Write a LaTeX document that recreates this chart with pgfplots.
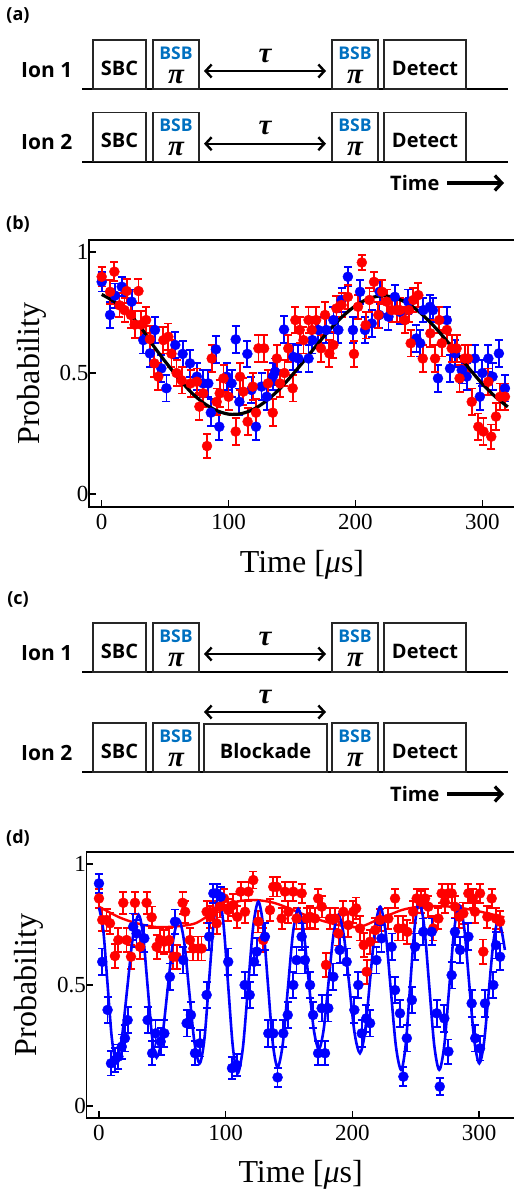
\documentclass[border=0pt]{standalone}
\usepackage{fontspec}
\setmainfont{Liberation Serif}
\newfontfamily\osans{Open Sans}
\usepackage{pgfplots}
\pgfplotsset{compat=1.18}
\usepackage{pgfplotstable}
\usetikzlibrary{arrows.meta}
\definecolor{bsb}{RGB}{0,112,192}

% ---- panel (b) data ----
\pgfplotstableread{
t p e
0 .898 .04
6.6 .836 .05
10 .919 .04
14 .78 .05
18 .76 .05
19.7 .839 .05
23 .74 .055
26 .70 .055
29 .839 .05
31 .70 .055
35 .719 .055
38 .64 .055
41.5 .54 .055
44.6 .485 .055
48.6 .636 .055
52.5 .650 .055
55 .58 .055
59 .50 .055
63 .47 .055
70 .457 .055
75 .464 .055
77 .361 .055
80 .416 .055
83 .198 .05
86.7 .56 .055
90.6 .381 .055
93 .416 .055
96 .478 .055
100 .402 .055
105.6 .258 .055
109 .485 .055
111.6 .423 .055
115 .299 .055
119 .444 .055
121.6 .336 .055
123.5 .602 .055
128 .602 .055
131 .457 .055
134.8 .336 .055
138 .56 .055
140.5 .457 .055
144 .50 .055
147 .602 .055
150.5 .437 .055
152.6 .719 .055
156 .678 .055
159 .636 .055
163 .719 .055
165.5 .678 .055
169 .719 .055
172.8 .602 .055
176 .74 .055
179.4 .581 .055
182.6 .616 .055
185 .767 .05
189 .781 .05
194 .815 .05
198.8 .579 .055
202 .774 .05
205 .957 .03
208 .698 .055
211 .802 .05
214.6 .877 .04
218 .74 .055
221 .836 .05
224.6 .795 .05
228.5 .76 .05
232.5 .76 .05
235 .76 .05
239 .719 .055
242 .76 .05
243.5 .623 .055
245.6 .802 .05
249.5 .822 .05
253 .56 .055
259 .664 .055
262.7 .56 .055
266 .719 .055
268 .623 .055
272 .678 .055
275.8 .602 .055
279.7 .602 .055
282 .478 .055
286 .56 .055
288.6 .56 .055
291.6 .381 .055
296.8 .278 .055
300.8 .258 .055
304.7 .464 .055
307 .237 .05
310.7 .320 .055
314 .402 .055
317.8 .402 .055
}\redb

\pgfplotstableread{
t p e
0 .877 .04
6.6 .74 .055
10.5 .82 .05
15.8 .857 .04
23.6 .795 .05
32.8 .636 .055
38 .581 .055
42 .678 .055
47 .519 .055
51 .437 .055
58 .616 .055
63.8 .579 .055
69.6 .54 .055
75 .485 .055
80 .457 .055
84 .457 .055
86 .336 .055
90 .598 .055
92.7 .278 .055
98.5 .485 .055
102.4 .457 .055
105.6 .639 .055
108.5 .381 .055
114.8 .579 .055
118 .43 .055
121.6 .278 .055
126 .444 .055
130 .402 .055
134.8 .485 .055
136.6 .505 .055
143.7 .68 .055
151 .567 .055
155 .56 .055
163 .56 .055
166 .636 .055
170.7 .678 .055
177 .678 .055
182.6 .719 .055
186.5 .678 .055
189 .802 .05
194 .898 .04
198 .678 .055
203.6 .836 .05
207.5 .678 .055
212.8 .705 .055
218.8 .74 .055
219 .836 .05
226 .733 .055
231 .815 .05
235 .753 .05
241.6 .795 .05
248 .643 .055
251 .623 .055
253.5 .76 .05
258.7 .774 .05
261 .76 .05
265 .478 .055
272 .719 .055
274.5 .519 .055
278.4 .581 .055
283.7 .512 .055
287.6 .485 .055
294 .56 .055
298 .402 .055
300 .5 .055
304.7 .56 .055
308 .485 .055
313 .581 .055
317.8 .437 .055
}\blueb

% ---- panel (d) data ----
\pgfplotstableread{
t p e
0 .858 .04
2.6 .769 .045
6 .769 .045
8.7 .755 .045
12.6 .62 .05
15.3 .686 .05
19.2 .84 .045
21.8 .686 .05
25.3 .617 .05
28.4 .84 .045
32.4 .658 .05
37.6 .84 .045
41.6 .78 .045
45.5 .658 .05
48.2 .686 .05
51.6 .679 .05
55.3 .686 .05
58.7 .617 .05
61.3 .617 .05
66 .84 .045
68 .803 .045
71.8 .686 .05
74.5 .651 .05
78.4 .651 .05
81 .651 .05
85 .803 .045
87.6 .782 .045
90.3 .803 .045
92.9 .755 .045
95.5 .824 .045
98.7 .858 .04
102 .81 .045
106 .831 .045
109.2 .782 .045
111.8 .886 .04
115.3 .803 .045
118 .886 .04
121.8 .934 .035
125.8 .762 .045
129.7 .686 .05
135 .81 .045
137.6 .906 .04
140.3 .906 .04
144.2 .775 .045
146.8 .886 .04
149.5 .803 .045
153.4 .886 .04
156 .775 .045
160 .879 .04
164 .775 .045
166.6 .782 .045
170.5 .775 .045
173 .858 .04
175.8 .824 .045
179.2 .583 .05
182.4 .775 .045
186.3 .775 .045
189 .713 .05
192.9 .803 .045
196.8 .748 .05
200.8 .803 .045
203 .817 .045
206 .734 .05
209 .665 .05
211.3 .555 .05
214 .679 .05
218 .727 .05
221.8 .769 .045
228.4 .775 .045
233.7 .858 .04
236.3 .734 .05
240.3 .734 .05
243.4 .72 .05
248 .803 .045
250.8 .858 .04
254 .844 .045
257.4 .858 .04
260 .824 .045
263.9 .734 .05
267.9 .775 .045
270.5 .879 .04
273 .844 .045
275.8 .879 .04
278.4 .879 .04
281 .824 .045
284.5 .782 .045
287.6 .796 .045
291.6 .879 .04
295 .858 .04
296.8 .803 .045
300.8 .879 .04
303.4 .638 .05
306.6 .782 .045
310 .858 .04
313.4 .775 .045
316.6 .762 .045
}\redd

\pgfplotstableread{
t p e
0 .92 .04
2.6 .596 .055
6.8 .397 .055
9.5 .176 .05
12.6 .19 .05
15.3 .204 .05
18 .245 .05
20.5 .28 .055
22.6 .355 .055
27 .741 .055
29.7 .713 .055
35.8 .693 .055
38.4 .355 .055
42 .218 .05
44.7 .30 .055
48.7 .266 .055
51.6 .30 .055
56 .534 .055
60 .762 .05
66.6 .603 .055
69.2 .342 .055
72.6 .376 .055
75.8 .218 .05
79.7 .259 .055
85 .459 .055
87 .70 .055
90.3 .879 .04
92.9 .879 .04
96 .865 .04
102 .596 .055
105 .156 .045
108.7 .169 .045
115 .50 .055
119 .459 .055
122.4 .596 .055
124.5 .638 .055
131 .70 .055
133.7 .30 .055
137.6 .30 .055
141 .118 .04
145.5 .30 .055
149 .376 .055
153.4 .50 .055
156 .603 .055
160 .70 .055
162.6 .603 .055
166.6 .50 .055
169 .376 .055
173 .218 .05
175.8 .404 .055
178.4 .218 .05
181 .404 .055
185 .534 .055
190 .645 .055
195.5 .596 .055
201.6 .397 .055
204.7 .50 .055
207.4 .30 .055
211 .362 .055
214 .342 .055
219 .603 .055
223 .693 .055
231 .658 .055
233.7 .479 .055
237.6 .383 .055
240.3 .121 .04
243 .28 .055
247 .438 .055
249.5 .658 .055
256 .72 .055
262.6 .72 .055
266.6 .383 .055
269 .08 .035
272.6 .362 .055
275.8 .225 .05
278.4 .541 .055
281 .72 .055
285 .645 .055
291.6 .70 .055
294.2 .424 .055
297 .28 .055
300.8 .238 .05
304.7 .424 .055
311.3 .50 .055
313.4 .665 .055
316.6 .617 .055
}\blued

\pgfplotsset{
  panel/.style={anchor=south west, scale only axis,
    xtick={0,100,200,300}, ytick={0,0.5,1},
    tick align=inside, xtick pos=left, ytick pos=left,
    major tick length=7pt, tick style={line width=1.3pt,black},
    axis line style={line width=1.3pt},
    /pgf/number format/assume math mode=true,
    ticklabel style={font=\fontsize{23}{23}\selectfont},
    label style={font=\fontsize{32}{32}\selectfont},
    xlabel={Time [\textit{μ}s]}, ylabel={Probability},
    xticklabel style={yshift=-4pt}, yticklabel style={xshift=3pt}},
  dat/.style={only marks, mark=*, mark size=5pt,
    error bars/.cd, y dir=both, y explicit,
    error bar style={line width=1.8pt},
    error mark options={rotate=90, mark size=4pt, line width=1.8pt}}
}

\tikzset{
  bx/.style={line width=1.1pt, black!85},
  txt/.style={font=\osans\bfseries\fontsize{20}{20}\selectfont, inner sep=0},
  bsbt/.style={font=\osans\bfseries\fontsize{17.5}{17.5}\selectfont, inner sep=0, text=bsb},
  pit/.style={font=\bfseries\itshape\fontsize{29}{29}\selectfont, inner sep=0},
  lab/.style={font=\osans\bfseries\fontsize{18}{18}\selectfont, inner sep=0},
  dbl/.style={line width=2.4pt, {Straight Barb[length=6pt,width=13pt]}-{Straight Barb[length=6pt,width=13pt]}},
  tarr/.style={line width=3.2pt, -{Straight Barb[length=7pt,width=15pt]}}
}

% one row of the pulse sequence: #1 baseline, #2 ion name
\newcommand{\seqbase}[2]{%
  \draw[line width=2pt] (82,#1) -- (508,#1);
  \draw[bx] (93,#1-49) rectangle (146,#1);
  \draw[bx] (153,#1-49) rectangle (199,#1);
  \draw[bx] (332,#1-49) rectangle (378,#1);
  \draw[bx] (384,#1-49) rectangle (466,#1);
  \node[anchor=base west, inner sep=0, font=\osans\bfseries\fontsize{21}{21}\selectfont] at (21,#1-12) {#2};
  \node[anchor=base, txt] at (119.5,#1-14) {SBC};
  \node[anchor=base, txt] at (425,#1-14) {Detect};
  \node[anchor=base, bsbt] at (176,#1-30) {BSB};
  \node[anchor=base, pit] at (176,#1-6) {π};
  \node[anchor=base, bsbt] at (355,#1-30) {BSB};
  \node[anchor=base, pit] at (355,#1-6) {π};
}

\begin{document}
\begin{tikzpicture}
\useasboundingbox (0pt,0pt) rectangle (514pt,-1194pt);

\begin{scope}[x=1pt, y=-1pt]
  % (a)
  \node[lab] at (18,15) {(a)};
  \seqbase{89}{Ion 1}
  \draw[dbl] (204,71) -- (326,71);
  \node[anchor=base, pit] at (265,62) {τ};
  \seqbase{161.7}{Ion 2}
  \draw[dbl] (204,143.7) -- (326,143.7);
  \node[anchor=base, pit] at (265,134.7) {τ};
  \node[anchor=base west, txt] at (390,190) {Time};
  \draw[tarr] (447,183) -- (504,183);

  \node[lab] at (18,224) {(b)};

  % (c)
  \node[lab] at (18,599) {(c)};
  \seqbase{672}{Ion 1}
  \draw[dbl] (204,654) -- (326,654);
  \node[anchor=base, pit] at (265,645) {τ};
  \seqbase{772}{Ion 2}
  \draw[bx] (204,724) rectangle (327,772);
  \node[anchor=base, txt] at (265.5,758) {Blockade};
  \draw[dbl] (204,712) -- (326,712);
  \node[anchor=base, pit] at (265,703) {τ};
  \node[anchor=base west, txt] at (390,801) {Time};
  \draw[tarr] (447,794) -- (504,794);

  \node[lab] at (18,838) {(d)};
\end{scope}

% (b)
\begin{axis}[panel, at={(89pt,-507pt)}, width=426pt, height=267pt,
  xmin=-10, xmax=325.7, ymin=-0.054, ymax=1.05,
  xlabel style={at={(axis description cs:0.5,-0.247)}, anchor=base},
  ylabel style={at={(axis description cs:-0.1338,0.5)}, anchor=center}]
\addplot[blue, dat] table[x=t, y=p, y error=e] {\blueb};
\addplot[red, dat] table[x=t, y=p, y error=e] {\redb};
\addplot[black, line width=3.2pt, smooth] coordinates {
(0,.825) (10,.795) (20,.752) (30,.695) (40,.618) (50,.548) (60,.482) (70,.423)
(80,.377) (90,.346) (100,.330) (110,.332) (120,.351) (130,.386) (140,.433)
(150,.491) (160,.554) (170,.619) (180,.681) (190,.735) (200,.778) (210,.807)
(220,.819) (230,.813) (240,.791) (250,.754) (260,.704) (270,.645) (280,.581)
(290,.516) (300,.455) (310,.403) (320,.360)};
\end{axis}

% (d)
\begin{axis}[panel, at={(86.3pt,-1118pt)}, width=428.7pt, height=266pt,
  xmin=-10, xmax=328.4, ymin=-0.05, ymax=1.05,
  xlabel style={at={(axis description cs:0.5,-0.244)}, anchor=base},
  ylabel style={at={(axis description cs:-0.1332,0.5)}, anchor=center}]
\addplot[red, dat] table[x=t, y=p, y error=e] {\redd};
\addplot[red, line width=2.4pt, smooth] coordinates {
(0,.824) (16,.78) (30,.755) (45,.74) (60,.742) (76,.755) (90,.80) (100,.83)
(112,.848) (125,.851) (138,.84) (151,.815) (165,.785) (180,.76) (195,.742)
(207,.742) (220,.77) (239,.81) (252,.823) (264,.826) (280,.823) (295,.81)
(308,.795) (320,.78)};
\addplot[blue, dat] table[x=t, y=p, y error=e] {\blued};
\addplot[blue, line width=2.6pt, smooth] coordinates {
(0,.82) (3.375,.728) (6.75,.505) (10.125,.282) (13.5,.19) (17.95,.278) (22.4,.49)
(26.85,.702) (31.3,.79) (34.85,.704) (38.4,.495) (41.95,.286) (45.5,.20)
(49.875,.283) (54.25,.485) (58.625,.687) (63,.77) (67.125,.683) (71.25,.473)
(75.375,.263) (79.5,.176) (83.225,.277) (86.95,.521) (90.675,.764) (94.4,.865)
(98.175,.758) (101.95,.5) (105.725,.242) (109.5,.135) (113.575,.239) (117.65,.49)
(121.725,.741) (125.8,.845) (129.6,.745) (133.4,.503) (137.2,.26) (141,.16)
(145.075,.256) (149.15,.488) (153.225,.719) (157.3,.815) (161.35,.73) (165.4,.525)
(169.45,.32) (173.5,.235) (177.375,.316) (181.25,.513) (185.125,.709) (189,.79)
(193.25,.706) (197.5,.504) (201.75,.302) (206,.218) (210,.307) (214,.521)
(218,.735) (222,.824) (226.125,.725) (230.25,.487) (234.375,.248) (238.5,.149)
(242.075,.251) (245.65,.497) (249.225,.742) (252.8,.844) (256.75,.742) (260.7,.497)
(264.65,.251) (268.6,.149) (272.55,.249) (276.5,.49) (280.45,.73) (284.4,.83)
(288.35,.734) (292.3,.503) (296.25,.272) (300.2,.176) (303.95,.263) (307.7,.473)
(311.45,.682) (315.2,.769) (318,.72) (320.4,.645)};
\end{axis}
\end{tikzpicture}
\end{document}
